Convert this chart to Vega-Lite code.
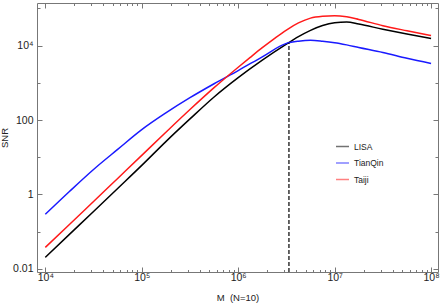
{
  "$schema": "https://vega.github.io/schema/vega-lite/v6.json",
  "width": 401,
  "height": 269,
  "autosize": {"type": "none"},
  "padding": {"left": 37, "top": 3, "right": 5, "bottom": 33},
  "background": "white",
  "config": {
    "view": {"stroke": "#777777", "strokeWidth": 1},
    "font": "Liberation Sans"
  },
  "datasets": {
    "curves": [
      {"M": 10000, "SNR": 0.0203, "detector": "LISA"},
      {"M": 17783, "SNR": 0.0841, "detector": "LISA"},
      {"M": 31623, "SNR": 0.348, "detector": "LISA"},
      {"M": 56234, "SNR": 1.445, "detector": "LISA"},
      {"M": 100000, "SNR": 6.03, "detector": "LISA"},
      {"M": 177828, "SNR": 26.3, "detector": "LISA"},
      {"M": 316228, "SNR": 107, "detector": "LISA"},
      {"M": 562341, "SNR": 417, "detector": "LISA"},
      {"M": 1000000, "SNR": 1380, "detector": "LISA"},
      {"M": 1778279, "SNR": 4074, "detector": "LISA"},
      {"M": 3162278, "SNR": 10965, "detector": "LISA"},
      {"M": 4216965, "SNR": 17378, "detector": "LISA"},
      {"M": 5623413, "SNR": 25704, "detector": "LISA"},
      {"M": 7498942, "SNR": 34674, "detector": "LISA"},
      {"M": 10000000, "SNR": 41210, "detector": "LISA"},
      {"M": 13335214, "SNR": 43152, "detector": "LISA"},
      {"M": 17782794, "SNR": 38019, "detector": "LISA"},
      {"M": 31622777, "SNR": 27542, "detector": "LISA"},
      {"M": 56234133, "SNR": 20417, "detector": "LISA"},
      {"M": 100000000, "SNR": 15488, "detector": "LISA"},

      {"M": 10000, "SNR": 0.292, "detector": "TianQin"},
      {"M": 17783, "SNR": 1.197, "detector": "TianQin"},
      {"M": 31623, "SNR": 4.68, "detector": "TianQin"},
      {"M": 56234, "SNR": 16.2, "detector": "TianQin"},
      {"M": 100000, "SNR": 55.0, "detector": "TianQin"},
      {"M": 177828, "SNR": 155, "detector": "TianQin"},
      {"M": 316228, "SNR": 398, "detector": "TianQin"},
      {"M": 562341, "SNR": 944, "detector": "TianQin"},
      {"M": 1000000, "SNR": 2138, "detector": "TianQin"},
      {"M": 1778279, "SNR": 5012, "detector": "TianQin"},
      {"M": 3162278, "SNR": 11482, "detector": "TianQin"},
      {"M": 4216965, "SNR": 13183, "detector": "TianQin"},
      {"M": 5623413, "SNR": 13964, "detector": "TianQin"},
      {"M": 7498942, "SNR": 13183, "detector": "TianQin"},
      {"M": 10000000, "SNR": 12023, "detector": "TianQin"},
      {"M": 13335214, "SNR": 10471, "detector": "TianQin"},
      {"M": 17782794, "SNR": 8913, "detector": "TianQin"},
      {"M": 31622777, "SNR": 6531, "detector": "TianQin"},
      {"M": 56234133, "SNR": 4571, "detector": "TianQin"},
      {"M": 100000000, "SNR": 3311, "detector": "TianQin"},

      {"M": 10000, "SNR": 0.0376, "detector": "Taiji"},
      {"M": 17783, "SNR": 0.155, "detector": "Taiji"},
      {"M": 31623, "SNR": 0.646, "detector": "Taiji"},
      {"M": 56234, "SNR": 2.69, "detector": "Taiji"},
      {"M": 100000, "SNR": 11.2, "detector": "Taiji"},
      {"M": 177828, "SNR": 46.8, "detector": "Taiji"},
      {"M": 316228, "SNR": 191, "detector": "Taiji"},
      {"M": 562341, "SNR": 741, "detector": "Taiji"},
      {"M": 1000000, "SNR": 2630, "detector": "Taiji"},
      {"M": 1333521, "SNR": 4842, "detector": "Taiji"},
      {"M": 1778279, "SNR": 8810, "detector": "Taiji"},
      {"M": 2371374, "SNR": 15488, "detector": "Taiji"},
      {"M": 3162278, "SNR": 26303, "detector": "Taiji"},
      {"M": 4216965, "SNR": 40738, "detector": "Taiji"},
      {"M": 5623413, "SNR": 54954, "detector": "Taiji"},
      {"M": 7498942, "SNR": 61660, "detector": "Taiji"},
      {"M": 10000000, "SNR": 63826, "detector": "Taiji"},
      {"M": 13335214, "SNR": 59566, "detector": "Taiji"},
      {"M": 17782794, "SNR": 50699, "detector": "Taiji"},
      {"M": 31622777, "SNR": 34277, "detector": "Taiji"},
      {"M": 56234133, "SNR": 25119, "detector": "Taiji"},
      {"M": 100000000, "SNR": 18750, "detector": "Taiji"}
    ],
    "marker": [{"M": 3360000, "lo": 0.0082, "hi": 12000}]
  },
  "layer": [
    {
      "data": {"name": "curves"},
      "mark": {"type": "line", "strokeWidth": 1.5, "interpolate": "monotone", "clip": true},
      "encoding": {
        "x": {
          "field": "M", "type": "quantitative",
          "scale": {"type": "log", "domain": [8200, 118000000], "nice": false},
          "axis": {
            "orient": "bottom",
            "values": [10000,20000,30000,40000,50000,60000,70000,80000,90000,100000,200000,300000,400000,500000,600000,700000,800000,900000,1000000,2000000,3000000,4000000,5000000,6000000,7000000,8000000,9000000,10000000,20000000,30000000,40000000,50000000,60000000,70000000,80000000,90000000,100000000],
            "labelExpr": "abs(log(datum.value)/LN10 - round(log(datum.value)/LN10)) < 0.001 ? '10' + ['⁰','¹','²','³','⁴','⁵','⁶','⁷','⁸'][round(log(datum.value)/LN10)] : ''",
            "tickSize": {"condition": {"test": "abs(log(datum.value)/LN10 - round(log(datum.value)/LN10)) < 0.001", "value": -5}, "value": -2.5},
            "tickColor": "#777777",
            "domain": false, "grid": false,
            "labelFont": "Liberation Sans", "labelFontSize": 10.5, "labelColor": "#222222",
            "labelPadding": 5.5, "labelOverlap": false, "labelFlush": false,
            "title": "M\u00a0\u00a0(N=10)", "titleFont": "Liberation Sans", "titleFontSize": 9.5,
            "titleFontWeight": "normal", "titleColor": "#222222", "titlePadding": 7
          }
        },
        "y": {
          "field": "SNR", "type": "quantitative",
          "scale": {"type": "log", "domain": [0.0082, 140000], "nice": false},
          "axis": {
            "orient": "left",
            "values": [0.01, 0.1, 1, 10, 100, 1000, 10000, 100000],
            "labelExpr": "datum.value < 0.05 ? '0.01' : (abs(datum.value - 1) < 0.01 ? '1' : (abs(datum.value - 100) < 1 ? '100' : (abs(datum.value - 10000) < 1 ? '10⁴' : '')))",
            "tickSize": {"condition": {"test": "datum.value < 0.05 || abs(datum.value - 1) < 0.01 || abs(datum.value - 100) < 1 || abs(datum.value - 10000) < 1", "value": -5}, "value": -3},
            "tickColor": "#777777",
            "domain": false, "grid": false,
            "labelFont": "Liberation Sans", "labelFontSize": 10.5, "labelColor": "#222222",
            "labelPadding": 9, "labelOverlap": false, "labelFlush": false,
            "title": "SNR", "titleFont": "Liberation Sans", "titleFontSize": 9.5,
            "titleFontWeight": "normal", "titleColor": "#222222", "titlePadding": 3
          }
        },
        "color": {
          "field": "detector", "type": "nominal",
          "scale": {"domain": ["LISA", "TianQin", "Taiji"], "range": ["#000000", "#1a1aff", "#ff1a1a"]},
          "legend": {
            "orient": "none", "legendX": 298, "legendY": 136, "title": null, "padding": 0,
            "symbolType": "stroke", "symbolSize": 170, "symbolStrokeWidth": 1.5, "symbolOpacity": 0.55,
            "labelFont": "Liberation Sans", "labelFontSize": 8.5, "labelColor": "#222222",
            "labelOffset": 4, "rowPadding": 4.5
          }
        }
      }
    },
    {
      "data": {"name": "marker"},
      "mark": {"type": "rule", "strokeDash": [4, 2], "color": "#000000", "strokeWidth": 1.2},
      "encoding": {
        "x": {
          "field": "M", "type": "quantitative",
          "scale": {"type": "log", "domain": [8200, 118000000], "nice": false},
          "axis": {
            "orient": "top",
            "values": [10000,20000,30000,40000,50000,60000,70000,80000,90000,100000,200000,300000,400000,500000,600000,700000,800000,900000,1000000,2000000,3000000,4000000,5000000,6000000,7000000,8000000,9000000,10000000,20000000,30000000,40000000,50000000,60000000,70000000,80000000,90000000,100000000],
            "labels": false, "title": null, "domain": false, "grid": false,
            "tickSize": {"condition": {"test": "abs(log(datum.value)/LN10 - round(log(datum.value)/LN10)) < 0.001", "value": -5}, "value": -2.5},
            "tickColor": "#777777"
          }
        },
        "y": {
          "field": "lo", "type": "quantitative",
          "scale": {"type": "log", "domain": [0.0082, 140000], "nice": false},
          "axis": {
            "orient": "right",
            "values": [0.01, 0.1, 1, 10, 100, 1000, 10000, 100000],
            "labels": false, "title": null, "domain": false, "grid": false,
            "tickSize": {"condition": {"test": "datum.value < 0.05 || abs(datum.value - 1) < 0.01 || abs(datum.value - 100) < 1 || abs(datum.value - 10000) < 1", "value": -5}, "value": -3},
            "tickColor": "#777777"
          }
        },
        "y2": {"field": "hi"}
      }
    }
  ],
  "resolve": {"axis": {"x": "independent", "y": "independent"}}
}
